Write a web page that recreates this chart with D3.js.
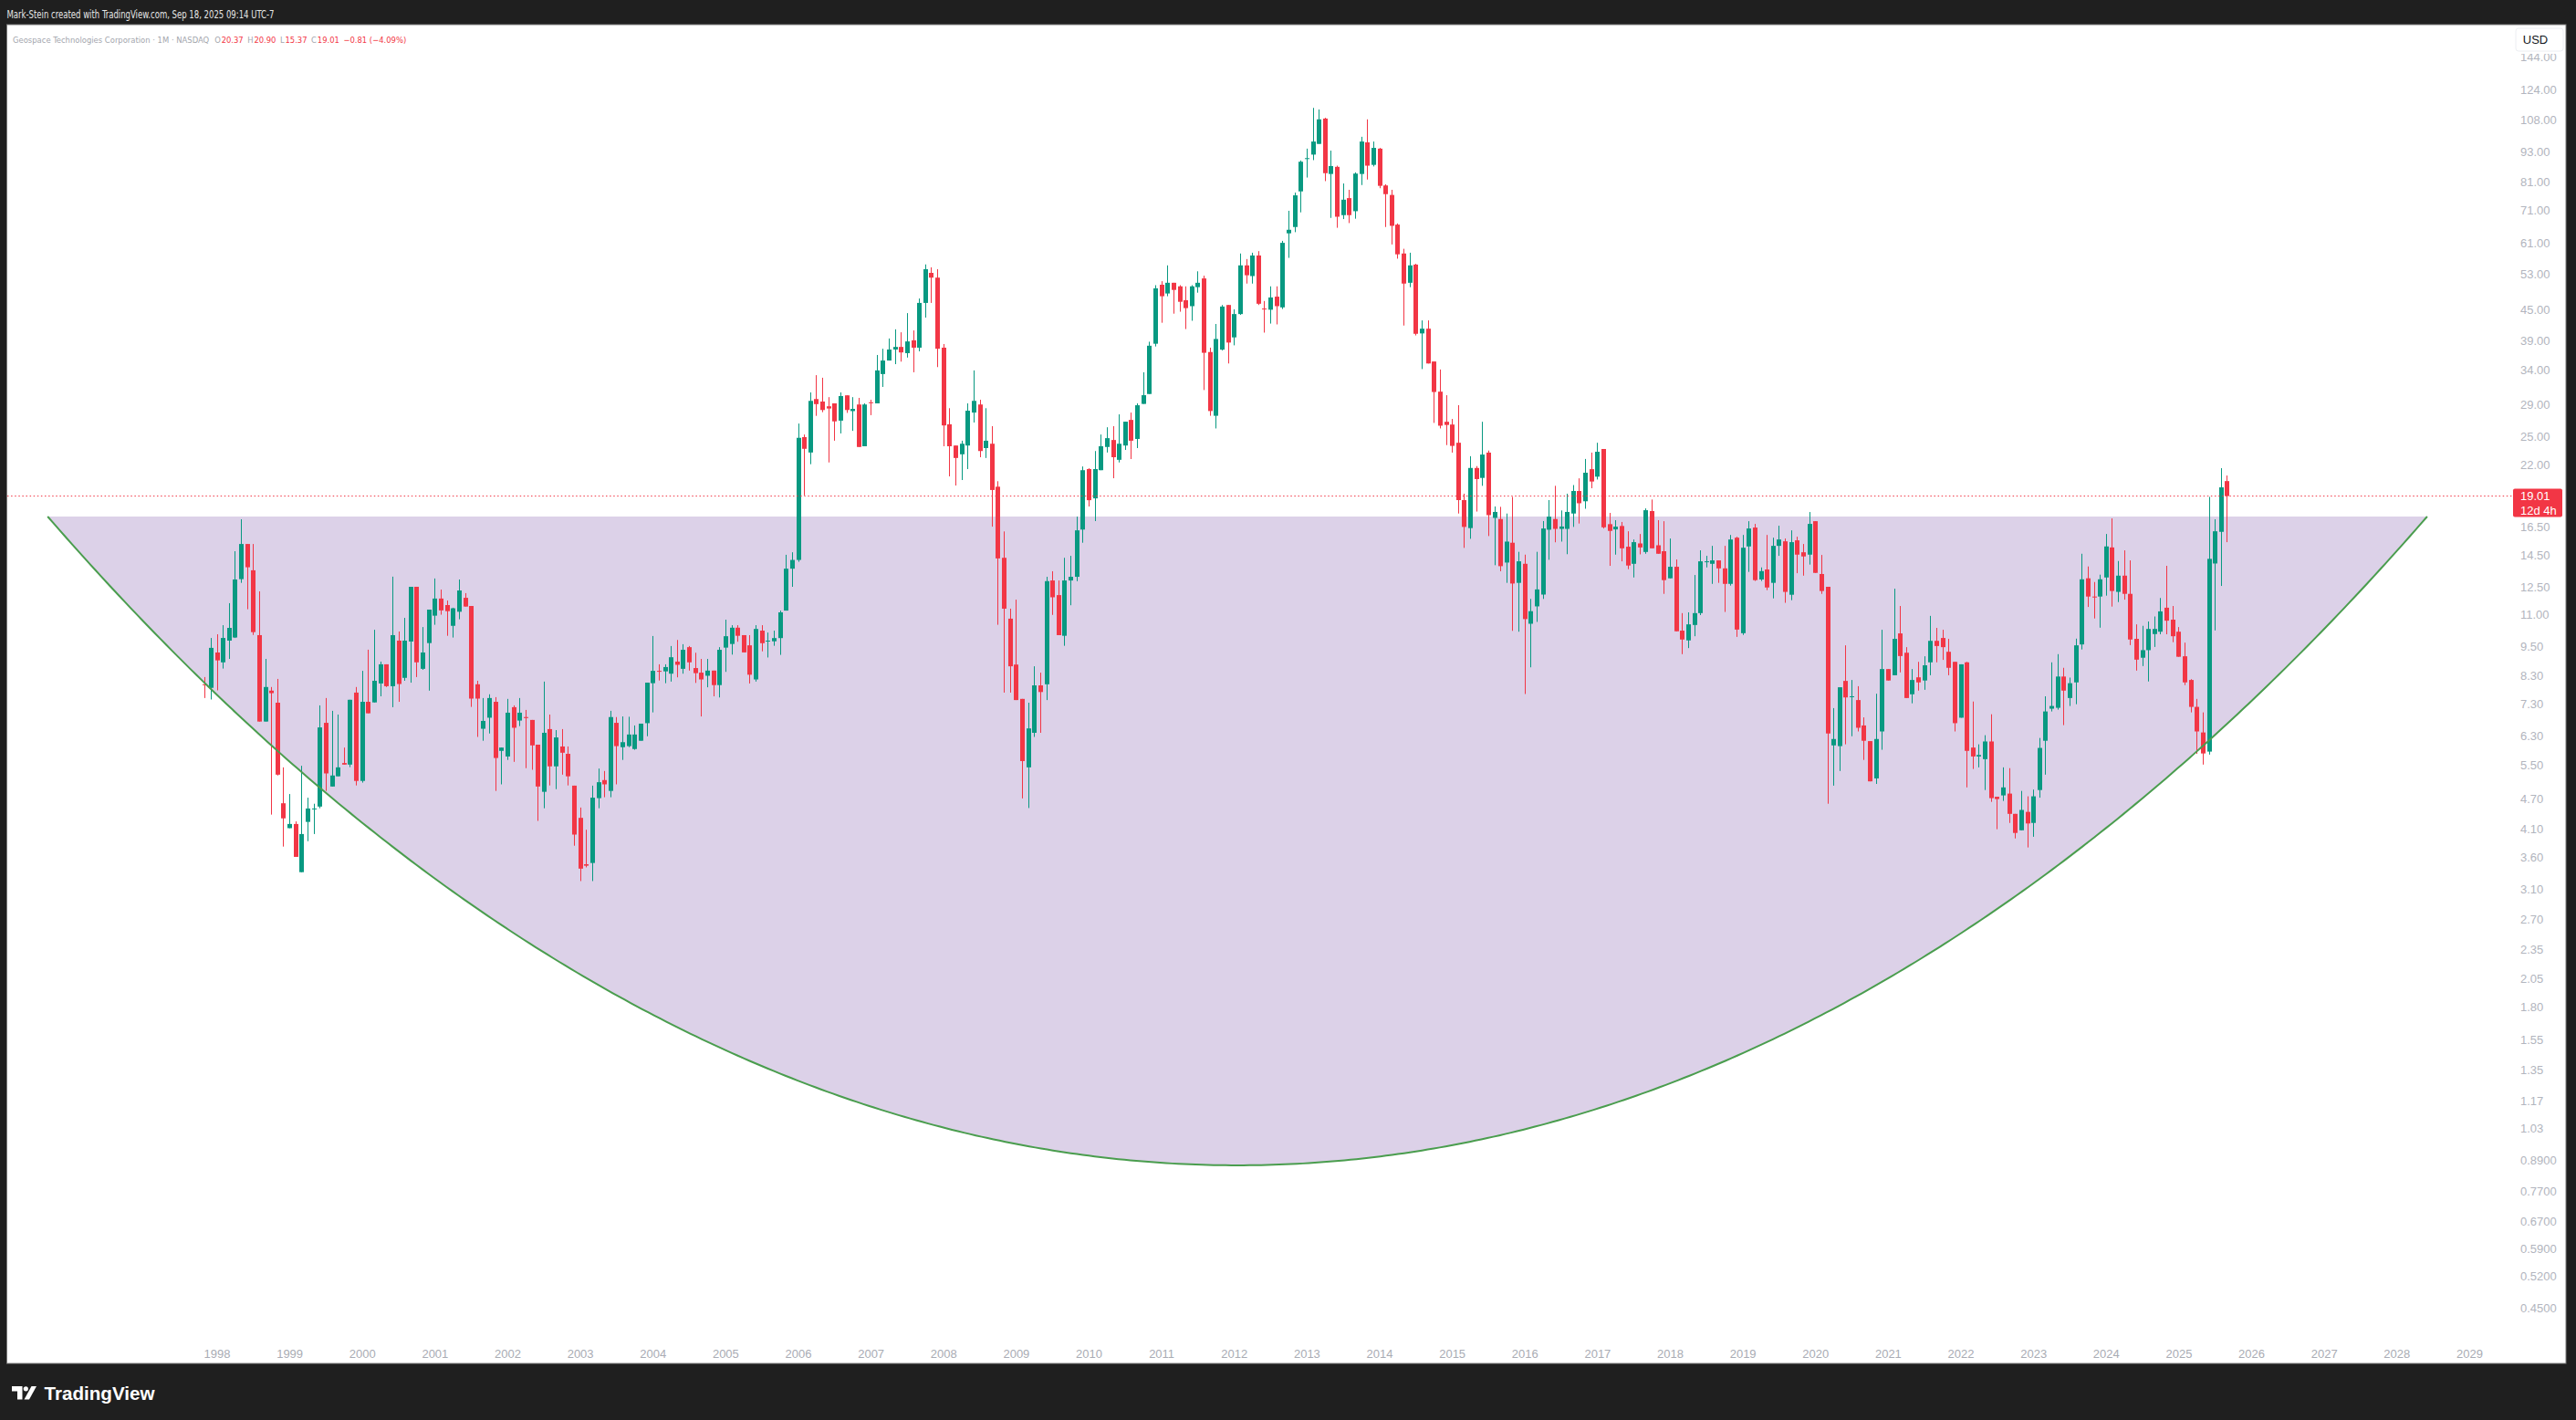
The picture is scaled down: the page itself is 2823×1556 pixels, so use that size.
<!DOCTYPE html>
<html><head><meta charset="utf-8">
<script src="https://cdn.jsdelivr.net/npm/d3@7"></script>
<style>html,body{margin:0;padding:0;background:#1f1f1f;overflow:hidden}svg{display:block}</style>
</head><body><svg id="c" width="2823" height="1556"></svg>
<script>
// ---------- DATA (monthly candles, GEOS, first bar = Nov 1997) ----------
const firstYear = 1997, firstMonth = 11;
const opens = [7.98,7.85,9.24,8.83,9.76,9.90,12.96,15.24,13.50,10.01,6.72,7.75,7.33,4.61,4.11,4.19,3.355,4.23,4.486,4.54,6.68,4.98,5.22,5.55,5.51,7.68,5.11,7.36,7.34,8.01,8.75,7.91,9.76,8.22,9.72,12.51,8.57,9.65,10.95,11.85,11.50,10.45,11.15,11.89,11.45,7.98,6.50,6.84,7.36,5.87,5.72,7.18,6.75,6.86,6.77,6.04,4.86,6.49,5.465,5.99,5.79,5.00,4.31,3.48,3.50,4.72,5.13,4.88,6.68,5.97,6.00,5.92,6.15,6.67,8.02,8.49,8.47,
8.38,8.86,8.57,9.47,8.60,8.42,8.30,8.50,7.95,9.45,9.61,10.36,10.01,9.55,8.16,10.22,9.73,9.73,9.875,11.21,13.60,14.16,24.95,23.24,29.74,29.40,28.76,29.15,26.92,30.25,28.13,29.00,23.92,29.30,29.15,33.37,35.52,37.37,37.82,36.75,38.99,37.69,46.33,53.22,52.06,37.69,26.47,24.00,23.05,24.00,27.94,29.00,23.72,24.20,19.85,14.30,10.80,8.74,7.46,5.44,6.38,7.94,7.98,12.88,12.04,9.98,12.88,13.10,16.29,21.53,18.81,21.42,23.84,24.62,22.47,24.00,27.01,24.74,
29.08,30.44,38.38,50.38,48.39,50.84,50.01,46.91,45.64,49.82,51.87,36.94,27.53,37.35,45.89,39.52,44.01,55.09,52.44,57.66,45.14,44.90,47.69,45.39,63.86,65.75,77.49,90.00,91.82,96.46,108.42,83.97,86.78,69.45,75.12,70.73,83.97,97.16,87.57,94.38,79.64,76.23,66.48,58.19,50.84,55.29,40.25,41.14,35.36,30.77,26.78,26.44,24.31,18.66,16.40,21.64,20.67,23.23,17.19,17.10,13.99,15.33,12.74,13.91,10.55,11.43,12.07,16.28,17.10,16.34,16.34,17.54,19.46,18.56,21.52,20.79,23.62,
16.70,16.30,16.56,15.05,13.91,15.28,14.69,17.74,15.15,14.74,13.01,13.72,10.22,9.77,10.49,11.08,14.03,13.91,14.13,13.62,12.68,15.69,10.10,15.07,16.44,12.94,13.55,12.74,15.11,15.43,12.06,15.50,14.67,14.51,16.93,13.27,12.51,6.02,6.00,8.105,7.53,7.42,6.60,6.14,5.17,6.42,8.56,8.32,10.09,9.23,7.62,8.24,8.12,8.83,9.75,9.88,9.27,8.85,6.84,8.83,5.96,5.72,5.65,6.13,4.75,4.78,4.82,4.39,4.07,4.43,4.21,4.90,6.15,7.13,7.16,8.27,7.49,8.05,9.59,13.01,11.96,11.96,13.06,15.00,12.22,13.17,12.11,9.84,9.02,9.34,10.06,10.17,11.36,10.75,10.17,9.08,8.14,7.19,6.39,5.85,13.93,16.12,20.37];
const highs = [8.25,9.88,10.05,10.48,11.60,14.74,17.08,15.24,15.24,12.25,8.97,7.88,8.18,5.44,4.81,4.24,5.48,4.73,4.60,7.24,7.49,7.06,6.94,5.96,7.43,7.88,8.49,9.36,10.26,8.86,8.75,13.11,10.18,10.84,12.51,12.51,10.39,11.26,13.00,12.35,11.74,11.36,12.94,12.15,11.45,8.11,7.49,7.62,7.52,5.96,7.46,7.24,7.49,7.09,6.77,6.04,8.08,6.94,6.46,6.49,5.99,5.00,4.52,4.08,5.00,5.41,5.35,7.06,6.86,6.88,6.87,6.60,6.655,8.04,9.97,8.75,8.75,
9.52,9.79,9.60,9.52,9.23,8.97,8.97,8.50,9.47,10.75,10.48,10.48,10.01,10.01,10.48,10.48,10.13,10.22,11.21,14.50,14.67,26.56,25.25,30.66,33.20,32.81,30.00,29.15,30.66,30.25,30.00,29.90,29.15,29.64,36.44,37.50,39.32,41.02,40.46,44.20,40.81,47.28,55.33,54.59,54.12,38.33,28.51,24.00,24.54,29.15,33.94,29.64,28.51,26.24,20.36,16.15,11.31,11.79,7.46,7.33,8.67,8.42,13.10,13.44,12.88,14.30,14.43,17.29,21.79,21.61,23.40,25.25,26.11,26.24,27.71,26.79,27.94,29.15,
33.65,38.74,50.28,51.21,55.09,50.84,50.28,50.01,50.28,53.60,52.53,37.69,42.04,45.89,45.89,44.98,58.19,56.72,58.40,58.83,46.74,50.01,50.01,61.68,70.86,77.06,89.35,94.38,113.89,113.07,108.82,93.52,87.25,80.37,78.06,84.58,99.68,108.03,97.52,94.71,80.08,78.06,66.84,59.47,58.40,55.49,42.74,42.74,35.36,34.08,30.27,27.13,28.91,19.22,22.85,21.83,26.78,23.45,18.12,18.09,17.54,18.94,14.70,14.51,11.83,14.70,16.94,18.66,19.93,17.79,19.22,20.00,20.63,22.56,23.23,24.31,23.62,
17.59,17.01,16.87,16.16,15.56,15.96,17.96,18.71,17.01,16.93,15.63,14.19,11.08,11.12,13.21,14.80,14.43,15.11,14.13,15.11,15.89,15.76,15.89,16.93,16.72,13.68,15.89,15.69,16.58,15.63,16.23,15.76,15.24,17.66,16.93,14.49,12.51,7.15,7.87,9.55,8.14,7.91,6.85,6.14,7.64,10.26,8.56,12.40,11.45,9.47,8.56,8.85,9.08,10.94,10.35,10.26,9.84,8.85,8.75,8.85,7.37,6.05,6.31,6.95,4.75,5.44,5.42,4.39,4.88,4.76,4.91,6.23,7.55,8.83,9.17,8.61,8.23,9.85,14.57,13.74,12.79,13.23,15.96,17.15,14.09,14.80,14.13,10.52,10.45,10.66,10.91,11.88,13.78,11.45,10.39,9.67,8.17,7.46,7.01,18.94,17.08,21.62,20.90];
const lows = [7.49,7.44,7.76,8.58,8.97,9.88,12.74,11.28,10.02,6.72,6.72,4.375,5.24,3.775,4.11,3.60,3.355,3.87,4.00,4.505,4.88,4.98,5.22,5.51,5.445,5.005,5.07,6.98,7.34,7.55,7.88,7.18,7.36,8.11,8.04,8.25,8.53,7.75,10.50,11.00,9.98,9.90,10.77,11.42,7.19,6.26,6.15,6.36,4.88,5.03,5.63,5.58,6.58,5.42,5.38,4.25,4.505,5.005,4.92,5.26,5.005,3.79,3.22,3.43,3.22,4.505,4.74,4.74,5.03,5.63,5.97,5.90,6.15,6.28,7.01,8.12,8.02,
8.08,8.24,8.38,8.50,8.03,6.88,7.87,7.55,7.51,8.45,9.15,9.71,9.245,8.01,8.08,9.29,9.03,9.53,9.14,11.21,12.51,14.04,19.07,22.02,27.52,27.99,22.20,24.54,25.38,27.90,25.68,23.84,23.92,27.61,29.15,31.45,35.52,34.93,35.34,36.01,33.65,37.06,43.30,46.33,34.46,23.92,20.82,19.96,20.47,21.53,26.69,22.74,22.66,16.51,10.50,7.68,7.68,7.42,4.715,4.51,6.26,6.38,7.42,10.99,10.01,9.53,11.49,12.84,15.33,18.12,16.94,21.42,23.24,20.64,22.20,23.52,22.55,23.72,
29.08,30.44,37.90,42.28,47.78,44.09,44.49,41.07,42.67,48.57,31.00,27.53,25.97,37.21,35.04,38.10,43.85,50.65,50.65,45.89,40.40,42.12,41.96,45.05,57.03,64.21,70.35,82.60,89.51,96.46,81.25,68.57,65.52,68.20,66.96,68.32,79.79,81.85,86.94,78.63,65.75,60.67,56.82,41.74,49.82,39.88,34.15,35.04,26.64,25.97,24.05,23.23,17.54,14.97,15.61,17.70,19.93,15.81,13.82,13.44,12.74,10.21,10.17,7.63,8.63,10.64,11.83,14.17,15.36,15.41,14.54,16.49,16.75,17.93,19.71,20.52,16.37,
13.78,14.51,14.07,13.57,13.06,14.53,14.57,14.94,14.57,12.11,13.01,10.19,9.17,9.43,9.96,10.98,13.68,12.68,12.74,11.14,12.58,9.93,10.02,13.40,12.85,12.85,12.32,11.86,14.43,11.62,11.76,13.32,13.17,13.86,13.34,12.11,4.60,5.00,5.35,6.05,6.28,6.42,5.63,5.10,5.04,5.90,8.12,8.32,8.43,7.49,7.31,7.75,7.78,8.32,8.83,8.93,8.32,6.42,6.84,4.96,5.40,5.44,4.90,4.64,4.09,4.66,4.21,3.92,4.07,3.76,3.95,4.73,5.26,7.04,7.10,6.61,7.22,7.28,9.37,11.40,10.81,10.36,12.01,11.42,11.66,11.79,9.56,8.50,8.68,8.085,9.48,10.05,10.05,9.69,9.06,7.95,7.01,5.79,5.51,5.77,10.23,12.56,15.37];
const closes = [7.96,9.44,8.91,9.88,10.35,12.94,15.24,13.69,10.15,6.72,7.88,7.66,5.26,4.30,4.19,3.60,4.00,4.50,4.50,6.54,5.29,5.24,5.44,5.51,7.43,5.11,7.36,6.98,8.11,8.75,7.91,10.01,7.99,9.76,12.51,8.83,9.24,11.26,11.85,11.22,11.18,11.33,12.30,11.42,7.47,7.47,6.74,7.49,5.68,5.96,7.00,6.53,7.00,6.83,6.02,4.98,6.38,5.465,6.245,5.82,5.22,3.99,3.41,3.456,4.73,5.08,5.03,6.86,6.00,6.11,6.33,6.33,6.655,8.04,8.49,8.47,8.64,
9.04,8.73,9.355,8.83,8.40,8.16,8.50,7.95,9.355,9.96,10.36,9.98,9.245,8.34,10.30,9.645,9.76,9.875,11.12,13.60,14.16,24.87,23.64,29.49,29.05,28.27,28.47,26.83,30.15,28.27,28.42,23.84,29.00,29.19,33.94,35.52,37.37,37.82,36.87,38.79,37.69,46.33,54.12,52.06,37.50,26.33,23.92,22.66,24.20,28.18,29.49,23.40,24.54,19.55,14.26,11.31,8.67,7.42,5.60,6.51,7.94,7.70,12.84,11.92,10.01,12.88,13.10,16.23,21.42,18.65,21.53,23.92,24.83,22.74,24.20,26.79,24.54,28.90,
30.27,38.03,49.55,47.78,50.84,49.19,46.57,45.23,50.01,50.84,36.81,28.14,39.23,45.56,38.59,44.01,55.09,52.63,57.66,46.15,44.98,47.51,45.64,61.12,64.92,76.09,88.85,90.33,97.52,108.03,84.28,87.10,68.94,74.58,69.45,84.12,97.52,87.25,94.71,79.50,76.51,66.11,57.97,50.65,55.09,40.18,41.14,35.04,30.72,26.30,26.39,23.96,18.66,16.49,21.64,20.56,23.02,17.41,17.67,13.76,15.41,12.70,14.07,10.78,11.18,12.36,16.37,17.29,16.34,16.52,17.67,19.46,18.39,21.17,20.33,23.32,16.46,
16.19,16.51,14.94,13.80,15.37,15.00,17.81,14.94,14.57,12.90,13.72,10.19,9.81,10.52,11.08,14.07,14.07,14.13,13.62,12.68,15.56,10.27,14.98,16.37,12.90,13.45,12.47,15.11,15.56,12.22,15.37,14.51,14.39,16.72,13.34,12.27,6.36,6.20,7.87,7.51,7.55,6.53,6.15,5.10,6.20,8.56,8.12,9.84,9.09,7.49,8.14,8.05,8.71,9.75,9.52,9.47,8.61,6.67,8.75,5.87,5.72,5.76,6.13,4.72,4.70,4.96,4.39,4.02,4.47,4.20,4.76,5.95,7.04,7.22,8.27,7.75,8.02,9.55,12.95,11.96,11.91,12.95,15.07,12.27,13.17,12.11,9.81,8.94,9.34,10.30,10.30,11.17,10.70,9.96,9.06,8.05,7.19,6.42,5.80,14.23,16.16,19.79,19.01];

const yearTicks = [1998,1999,2000,2001,2002,2003,2004,2005,2006,2007,2008,2009,2010,2011,2012,2013,2014,2015,2016,2017,2018,2019,2020,2021,2022,2023,2024,2025,2026,2027,2028,2029];
const priceTicks = ["144.00","124.00","108.00","93.00","81.00","71.00","61.00","53.00","45.00","39.00","34.00","29.00","25.00","22.00","16.50","14.50","12.50","11.00","9.50","8.30","7.30","6.30","5.50","4.70","4.10","3.60","3.10","2.70","2.35","2.05","1.80","1.55","1.35","1.17","1.03","0.8900","0.7700","0.6700","0.5900","0.5200","0.4500"];
const lastPrice = 19.01, countdown = "12d 4h";
const titleName = "Geospace Technologies Corporation · 1M · NASDAQ";
const ohlcLetters = ["O","H","L","C"];
const ohlcValues = ["20.37","20.90","15.37","19.01"];
const changeText = "−0.81 (−4.09%)";
const credit = "Mark-Stein created with TradingView.com, Sep 18, 2025 09:14 UTC-7";
// cup (arc drawing) anchors: [year, month, price]
const arcStart = [1995, 9, 17.30], arcEnd = [2028, 6, 17.30], arcBottomPrice = 0.868, arcFullness = 0.9;

// ---------- LAYOUT ----------
const W = 2823, H = 1556;
const panel = {x: 7.5, y: 27, r: 2812, b: 1494};
const plot = {l: 8, r: 2752, t: 27, b: 1465};
const UP = "#089981", DOWN = "#f23645";
const FONT = "'Liberation Sans', Arial, sans-serif";
const NARROW = "'Liberation Sans Narrow', 'Arial Narrow', 'DejaVu Sans Condensed', 'Liberation Sans', sans-serif";
const axisGray = "#b2b5be";

const mIdx = (y, m) => (y - 1998) * 12 + (m - 1);
const barSpacing = 6.6355, x0 = 238;
const x = d3.scaleLinear()
  .domain([(plot.l - x0) / barSpacing, (plot.r - x0) / barSpacing])
  .range([plot.l, plot.r]);
const y = d3.scaleLog().domain([0.3933, 167.2]).range([plot.b, plot.t]);

const svg = d3.select("#c");
svg.append("rect").attr("width", W).attr("height", H).attr("fill", "#1f1f1f");
svg.append("rect").attr("x", panel.x).attr("y", panel.y)
  .attr("width", panel.r - panel.x).attr("height", panel.b - panel.y)
  .attr("fill", "#ffffff").attr("stroke", "#7c7c7c").attr("stroke-width", 1);

// clip for plot
svg.append("clipPath").attr("id", "pc").append("rect")
  .attr("x", plot.l).attr("y", plot.t).attr("width", plot.r - plot.l).attr("height", plot.b - plot.t);
const g = svg.append("g").attr("clip-path", "url(#pc)");

// ---------- CUP ARC ----------
const ax1 = x(mIdx(arcStart[0], arcStart[1])), ax2 = x(mIdx(arcEnd[0], arcEnd[1]));
const ayTop = y(arcStart[2]), ayBot = y(arcBottomPrice);
const acx = (ax1 + ax2) / 2, hw = (ax2 - ax1) / 2, depth = ayBot - ayTop;
const eb = depth / (1 - arcFullness), eyc = ayBot - eb, ea = hw / Math.sqrt(1 - arcFullness * arcFullness);
const arcPts = d3.range(0, 401).map(k => {
  const xx = ax1 + (ax2 - ax1) * k / 400;
  const t = (xx - acx) / ea;
  return [xx, eyc + eb * Math.sqrt(Math.max(0, 1 - t * t))];
});
const line = d3.line();
g.append("path").attr("d", line(arcPts) + "Z").attr("fill", "#dcd1e8").attr("stroke", "none");

// ---------- CANDLES ----------
const bars = opens.map((o, k) => ({
  i: mIdx(firstYear, firstMonth) + k, o, h: highs[k], l: lows[k], c: closes[k]
}));
const cg = g.append("g");
bars.forEach(d => {
  const cx = x(d.i);
  const bx = Math.round(cx - 2.5);
  const col = d.c >= d.o ? UP : DOWN;
  const yh = y(d.h), yl = y(d.l);
  cg.append("rect").attr("x", bx + 2).attr("y", yh).attr("width", 1).attr("height", Math.max(1, yl - yh)).attr("fill", col);
  const top = y(Math.max(d.o, d.c)), bot = y(Math.min(d.o, d.c));
  cg.append("rect").attr("x", bx).attr("y", top).attr("width", 5).attr("height", Math.max(1, bot - top)).attr("fill", col);
});

// arc stroke on top of fill
g.append("path").attr("d", line(arcPts)).attr("fill", "none").attr("stroke", "#4a9d4e").attr("stroke-width", 2);

// last price line
svg.append("line").attr("x1", plot.l).attr("x2", 2754).attr("y1", y(lastPrice)).attr("y2", y(lastPrice))
  .attr("stroke", DOWN).attr("stroke-width", 1).attr("stroke-dasharray", "1.5 2.6");

// ---------- PRICE AXIS ----------
svg.append("clipPath").attr("id", "ac").append("rect").attr("x", 2752).attr("y", 59).attr("width", 60).attr("height", 1420);
const ag = svg.append("g").attr("clip-path", "url(#ac)");
ag.selectAll("text.pt").data(priceTicks).join("text")
  .attr("x", 2762).attr("y", d => y(+d)).attr("dy", "0.36em")
  .attr("font-family", FONT).attr("font-size", 13).attr("fill", axisGray).text(d => d);

// price label
const ly = y(lastPrice);
svg.append("rect").attr("x", 2754).attr("y", ly - 8).attr("width", 54).attr("height", 31).attr("rx", 2).attr("fill", DOWN);
svg.append("text").attr("x", 2762).attr("y", ly).attr("dy", "0.36em").attr("font-family", FONT).attr("font-size", 13)
  .attr("fill", "#ffffff").text(lastPrice.toFixed(2));
svg.append("text").attr("x", 2762).attr("y", ly + 15.5).attr("dy", "0.36em").attr("font-family", FONT).attr("font-size", 13)
  .attr("fill", "#ffffff").text(countdown);

// USD button
svg.append("rect").attr("x", 2757).attr("y", 31).attr("width", 52).attr("height", 25).attr("rx", 3)
  .attr("fill", "#ffffff").attr("stroke", "#eceef2");
svg.append("text").attr("x", 2778.5).attr("y", 43.5).attr("dy", "0.36em").attr("text-anchor", "middle")
  .attr("font-family", FONT).attr("font-size", 13).attr("fill", "#131722").text("USD");

// ---------- TIME AXIS ----------
svg.selectAll("text.yr").data(yearTicks).join("text")
  .attr("x", d => x(mIdx(d, 1))).attr("y", 1483).attr("dy", "0.36em").attr("text-anchor", "middle")
  .attr("font-family", FONT).attr("font-size", 13).attr("fill", "#a9acb4").text(d => d);

// ---------- HEADER ----------
svg.append("text").attr("x", 7.5).attr("y", 16).attr("dy", "0.36em").attr("font-family", NARROW).attr("font-size", 11.5)
  .attr("fill", "#e6e6e6").attr("textLength", 293).attr("lengthAdjust", "spacingAndGlyphs").text(credit);

// legend line: sequential layout using measured widths, font size fitted to target span
const hdrY = 43.5, hdrX0 = 14, hdrSpan = 425;
const items = [{t: titleName, c: "#a3a6ad", gap: 0}];
ohlcLetters.forEach((L, k) => {
  items.push({t: L, c: "#a3a6ad", gap: k === 0 ? 6 : 4.5});
  items.push({t: ohlcValues[k], c: DOWN, gap: 0.8});
});
items.push({t: changeText, c: DOWN, gap: 4.5});
const hdr = svg.append("g").attr("font-family", NARROW);
const nodes = items.map(it => hdr.append("text").attr("y", hdrY).attr("dy", "0.36em").attr("fill", it.c).text(it.t));
function layout(fs) {
  let cx = hdrX0;
  nodes.forEach((n, k) => {
    n.attr("font-size", fs);
    cx += items[k].gap;
    n.attr("x", cx);
    cx += n.node().getComputedTextLength();
  });
  return cx - hdrX0;
}
let fs = 12.5;
const w0 = layout(fs);
fs = fs * hdrSpan / w0;
layout(fs);

// ---------- FOOTER LOGO ----------
const lg = svg.append("g").attr("fill", "#ffffff");
lg.append("path").attr("d", "M13,1519 H24.5 V1533.5 H19 V1524.5 H13 Z");
lg.append("circle").attr("cx", 28.3).attr("cy", 1521.8).attr("r", 2.6);
lg.append("path").attr("d", "M26.5,1533.5 H32 L40,1519 H34.5 Z");
svg.append("text").attr("x", 48.5).attr("y", 1533.5).attr("font-family", FONT).attr("font-weight", "bold")
  .attr("font-size", 20).attr("fill", "#ffffff").attr("textLength", 121).attr("lengthAdjust", "spacingAndGlyphs").text("TradingView");
</script>
</body></html>
